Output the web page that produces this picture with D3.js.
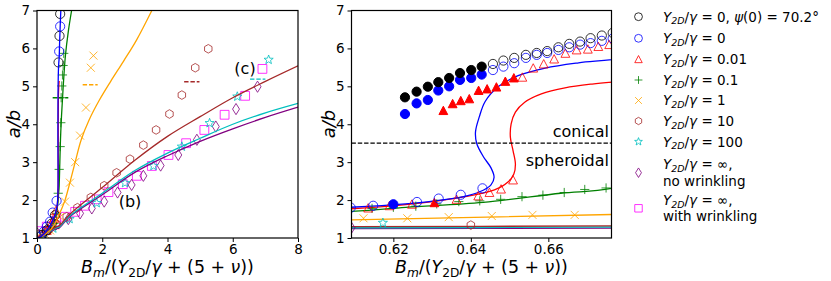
<!DOCTYPE html>
<html>
<head>
<meta charset="utf-8">
<script src="https://cdnjs.cloudflare.com/ajax/libs/d3/7.8.5/d3.min.js"></script>
<style>
  body { margin: 0; background: #fff; }
  text { font-family: "DejaVu Sans", sans-serif; fill: #000; }
</style>
</head>
<body>
<div id="chart"></div>
<script>
// ---- data ----
// theory curves [x, a/b], shared by both panels
const curveRed    = [[0,1],[0.2,1.1],[0.4,1.32],[0.5,1.48],[0.56,1.62],[0.6089,1.77],[0.6232,1.88],[0.6374,2.07],[0.6461,2.27],[0.6495,2.47],[0.6511,2.69],[0.6515,2.95],[0.6509,3.30],[0.6502,3.66],[0.6504,4.01],[0.6515,4.32],[0.6539,4.58],[0.6582,4.80],[0.6643,4.96],[0.6713,5.06],[0.680,5.14]];
const curveBlue   = [[0,1],[0.1,1.03],[0.2,1.1],[0.3,1.2],[0.4,1.33],[0.5,1.5],[0.56,1.64],[0.6089,1.81],[0.6232,1.90],[0.6332,2.01],[0.6392,2.12],[0.6432,2.26],[0.6452,2.40],[0.6460,2.60],[0.6452,2.85],[0.6432,3.15],[0.6415,3.50],[0.6412,3.80],[0.6422,4.20],[0.6437,4.60],[0.6472,5.00],[0.6522,5.28],[0.6592,5.48],[0.6678,5.62],[0.6792,5.75],[0.695,6.2],[0.712,6.62],[0.73,7.0]];
const curveGreen  = [[0,1],[0.2,1.1],[0.4,1.3],[0.5,1.45],[0.6092,1.70],[0.6232,1.81],[0.6432,1.94],[0.6632,2.18],[0.6763,2.31],[0.70,3.0],[0.72,3.6],[0.75,4.2],[0.80,4.95],[0.87,5.8],[0.96,6.45],[1.06,7.0]];
const curveOrange = [[0,1],[0.2,1.07],[0.4,1.2],[0.5,1.32],[0.6092,1.48],[0.6763,1.62],[0.76,1.78],[0.86,2.0],[1.02,2.5],[1.17,3.0],[1.35,3.58],[1.6,4.12],[1.9,4.62],[2.25,5.12],[2.65,5.66],[3.05,6.22],[3.52,7.0]];
const curveBrown  = [[0,1],[0.3,1.15],[0.6092,1.30],[0.6763,1.32],[1,1.62],[2,2.33],[3,3.05],[4,3.68],[5,4.2],[6,4.7],[7,5.13],[8,5.54]];
const curveCyan   = [[0,1],[0.3,1.14],[0.6092,1.27],[0.6763,1.29],[1,1.58],[2,2.18],[3,2.78],[4,3.24],[5,3.63],[6,4.0],[7,4.3],[8,4.55]];
const curvePurple = [[0,1],[0.3,1.13],[0.6092,1.25],[0.6763,1.26],[1,1.56],[2,2.14],[3,2.73],[4,3.17],[5,3.55],[6,3.88],[7,4.18],[8,4.45]];

// simulation points, left panel
const leftBlack  = [[0.15,1.08],[0.3,1.2],[0.45,1.38],[0.55,1.6],[0.66,5.63],[0.69,6.33],[0.71,6.91]];
const leftBlue   = [[0.1,1.04],[0.21,1.17],[0.3,1.30],[0.4,1.43],[0.48,1.67],[0.6,1.98],[0.68,5.92],[0.71,6.58]];
const leftRed    = [[0.15,1.08],[0.3,1.2],[0.42,1.35],[0.52,1.52],[0.58,1.72]];
const leftGreen  = [[0.1,1.03],[0.25,1.1],[0.4,1.22],[0.52,1.38],[0.60,1.65],[0.65,2.18],[0.68,2.81],[0.71,3.41],[0.73,4.04],[0.74,4.70],[0.76,5.01],[0.78,5.30],[0.80,5.55],[0.82,5.87]];
const leftOrange = [[0.1,1.03],[0.25,1.1],[0.4,1.2],[0.55,1.33],[0.7,1.55],[0.86,1.96],[1.01,2.46],[1.17,3.0],[1.32,3.70],[1.50,4.44],[1.65,5.49],[1.73,5.81]];
const leftBrown  = [[0.07,1.10],[0.35,1.21],[0.60,1.37],[0.91,1.56],[1.24,1.80],[1.65,2.07],[2.06,2.38],[2.44,2.72],[2.85,3.08],[3.26,3.45],[3.65,3.85],[4.06,4.27],[4.44,4.77],[4.85,5.49],[5.25,5.99]];
const leftCyan   = [[0.2,1.1],[0.5,1.25],[1.0,1.5],[1.83,1.92],[2.70,2.45],[3.57,2.90],[4.44,3.41],[5.29,4.03],[6.14,4.73],[7.10,5.70]];
const leftPurple = [[0.01,1.12],[0.30,1.23],[0.60,1.37],[0.96,1.50],[1.32,1.65],[1.68,1.78],[2.06,1.96],[2.47,2.20],[2.90,2.40],[3.26,2.64],[3.79,2.91],[4.33,3.19],[4.90,3.59],[5.48,3.94],[6.10,4.40],[6.76,4.99]];
const leftMagenta = [[0.09,1.18],[0.30,1.30],[0.58,1.43],[0.86,1.56],[1.17,1.69],[1.47,1.85],[1.83,2.02],[2.19,2.21],[2.63,2.42],[3.06,2.64],[3.52,2.90],[4.03,3.19],[4.57,3.50],[5.13,3.85],[5.75,4.25],[6.38,4.75],[6.91,5.46]];
// short dashed marks of the transition, left panel: [x0, x1, a/b]
const transGreen  = [0.48, 0.96, 4.70];
const transOrange = [1.40, 1.86, 5.04];
const transBrown  = [4.51, 4.98, 5.12];
const transCyan   = [6.53, 7.00, 5.19];

// simulation points, right panel
const rightBlackFill = [[0.6230,4.71],[0.6260,4.86],[0.6289,4.99],[0.6316,5.11],[0.6344,5.22],[0.6372,5.35],[0.6401,5.43],[0.6428,5.52]];
const rightBlackOpen = [[0.6457,5.59],[0.6484,5.68],[0.6512,5.75],[0.6542,5.83],[0.6570,5.88],[0.6597,5.93],[0.6626,6.03],[0.6654,6.12],[0.6682,6.18],[0.6709,6.27],[0.6738,6.34],[0.6766,6.41]];
const rightBlueFill  = [[0.6230,4.27],[0.6260,4.55],[0.6289,4.64],[0.6316,4.89],[0.6344,5.00],[0.6372,5.17],[0.6401,5.22],[0.6428,5.31],[0.6200,1.89]];
const rightBlueOpen  = [[0.6457,5.43],[0.6484,5.52],[0.6512,5.61],[0.6542,5.75],[0.6570,5.83],[0.6597,5.88],[0.6626,5.96],[0.6654,6.03],[0.6682,6.10],[0.6709,6.14],[0.6738,6.20],[0.6766,6.26],
                        [0.6090,1.80],[0.6148,1.85],[0.6261,1.95],[0.6317,2.04],[0.6374,2.14],[0.6430,2.31]];
const rightRedFill   = [[0.6329,4.36],[0.6353,4.54],[0.6374,4.62],[0.6396,4.67],[0.6420,4.89],[0.6442,4.93],[0.6466,4.98],[0.6489,5.13],[0.6511,5.22],[0.6306,1.93]];
const rightRedOpen   = [[0.6533,5.24],[0.6561,5.48],[0.6588,5.59],[0.6615,5.72],[0.6644,5.87],[0.6673,5.96],[0.6702,5.98],[0.6729,6.05],[0.6757,6.10],
                        [0.6135,1.79],[0.6190,1.85],[0.6248,1.89],[0.6363,2.02],[0.6419,2.11],[0.6448,2.20],[0.6478,2.29],[0.6509,2.53]];
const rightGreen  = [[0.6145,1.78],[0.6200,1.81],[0.6258,1.84],[0.6312,1.90],[0.6369,1.96],[0.6423,1.98],[0.6477,2.02],[0.6532,2.09],[0.6586,2.13],[0.6641,2.20],[0.6694,2.28],[0.6749,2.32]];
const rightOrange = [[0.6123,1.52],[0.6236,1.52],[0.6343,1.55],[0.6454,1.58],[0.6559,1.61],[0.6668,1.61]];
const rightBrown  = [[0.6400,1.34]];
const rightCyan   = [[0.6173,1.40]];
const rightPurple = [[0.6092,1.27]];
const conicalLevel = 3.5;

const leftTicksX  = [0, 2, 4, 6, 8];
const rightTicksX = [0.62, 0.64, 0.66];
const ticksY      = [1, 2, 3, 4, 5, 6, 7];

// ---- marker shapes ----
const shapes = {
  circle: r => `M${r},0A${r},${r} 0 1,1 ${-r},0A${r},${r} 0 1,1 ${r},0Z`,
  tri: r => `M0,${-r}L${r},${r * 0.9}L${-r},${r * 0.9}Z`,
  plus: r => `M${-r},0H${r}M0,${-r}V${r}`,
  cross: r => `M${-r},${-r}L${r},${r}M${-r},${r}L${r},${-r}`,
  hex: r => d3.range(6).map(k => {
    const a = (k * 60 - 90) * Math.PI / 180;
    return (k ? "L" : "M") + (r * Math.cos(a)).toFixed(2) + "," + (r * Math.sin(a)).toFixed(2);
  }).join("") + "Z",
  star: r => d3.range(10).map(k => {
    const a = (k * 36 - 90) * Math.PI / 180, rr = k % 2 ? r * 0.42 : r;
    return (k ? "L" : "M") + (rr * Math.cos(a)).toFixed(2) + "," + (rr * Math.sin(a)).toFixed(2);
  }).join("") + "Z",
  diamond: r => `M0,${-r}L${r * 0.62},0L0,${r}L${-r * 0.62},0Z`,
  square: r => `M${-r},${-r}H${r}V${r}H${-r}Z`
};

const st = {
  black:   { color: "#000000", shape: "circle", r: 4.6 },
  blue:    { color: "#0000ff", shape: "circle", r: 4.6 },
  red:     { color: "#ff0000", shape: "tri", r: 4.4 },
  green:   { color: "#008000", shape: "plus", r: 4.6 },
  orange:  { color: "#ffa500", shape: "cross", r: 4.0 },
  brown:   { color: "#a52a2a", shape: "hex", r: 4.3 },
  cyan:    { color: "#00bfbf", shape: "star", r: 4.8 },
  purple:  { color: "#800080", shape: "diamond", r: 5.6 },
  magenta: { color: "#ff00ff", shape: "square", r: 4.4 }
};

const W = 831, H = 281;
const svg = d3.select("#chart").append("svg").attr("width", W).attr("height", H);

const y = d3.scaleLinear().domain([1, 7]).range([238, 10.5]);
const xL = d3.scaleLinear().domain([0, 8]).range([37, 298]);
const xR = d3.scaleLinear().domain([0.6092, 0.6763]).range([351.5, 611.5]);

// math-ish text from parts: {t, i: italic, sub: subscript}
function mathText(sel, parts, size) {
  let low = false;
  parts.forEach(p => {
    const ts = sel.append("tspan").text(p.t);
    if (p.i) ts.attr("font-style", "italic");
    if (p.sub && !low) { ts.attr("dy", size * 0.22).attr("font-size", size * 0.7); low = true; }
    else if (p.sub) ts.attr("font-size", size * 0.7);
    else if (!p.sub && low) { ts.attr("dy", -size * 0.22); low = false; }
  });
  return sel;
}

const xLabelParts = [{ t: "B", i: 1 }, { t: "m", i: 1, sub: 1 }, { t: "/(" }, { t: "Y", i: 1 }, { t: "2D", sub: 1 },
  { t: "/" }, { t: "γ", i: 1 }, { t: " + (5 + " }, { t: "ν", i: 1 }, { t: "))" }];

function panel(x, ticksX, fmt, id) {
  const [x0, x1] = x.range();
  const g = svg.append("g");
  g.append("clipPath").attr("id", id).append("rect")
    .attr("x", x0).attr("y", 10.5).attr("width", x1 - x0).attr("height", 238 - 10.5);

  const ax = g.append("g").attr("transform", "translate(0,238)")
    .call(d3.axisBottom(x).tickValues(ticksX).tickFormat(fmt).tickSize(4).tickPadding(2).tickSizeOuter(0));
  const ay = g.append("g").attr("transform", `translate(${x0},0)`)
    .call(d3.axisLeft(y).tickValues(ticksY).tickFormat(d3.format("d")).tickSize(4).tickPadding(3).tickSizeOuter(0));
  [ax, ay].forEach(a => {
    a.select(".domain").remove();
    a.selectAll("text").attr("font-size", 13.5).attr("font-family", "DejaVu Sans");
    a.selectAll("line").attr("stroke", "#000").attr("stroke-width", 1);
  });

  g.append("text").attr("x", (x0 + x1) / 2).attr("y", 273).attr("text-anchor", "middle")
    .attr("font-size", 17.4).call(s => mathText(s, xLabelParts, 17.4));
  g.append("text").attr("transform", `translate(${x0 - 17},124) rotate(-90)`).attr("text-anchor", "middle")
    .attr("font-size", 18).attr("font-style", "italic").text("a/b");

  const plot = g.append("g").attr("clip-path", `url(#${id})`);
  return { g, plot, x, x0, x1 };
}

function markers(p, data, s, filled) {
  p.plot.append("g").selectAll("path").data(data).join("path")
    .attr("transform", d => `translate(${p.x(d[0])},${y(d[1])})`)
    .attr("d", shapes[s.shape](s.r))
    .attr("fill", filled ? s.color : "none")
    .attr("stroke", s.color)
    .attr("stroke-width", 1)
    .attr("opacity", filled ? 1 : 0.8);
}

function curve(p, data, color) {
  const line = d3.line().x(d => p.x(d[0])).y(d => y(d[1])).curve(d3.curveCatmullRom.alpha(0.5));
  p.plot.append("path").datum(data).attr("d", line)
    .attr("fill", "none").attr("stroke", color).attr("stroke-width", 1.3);
}

function trans(p, t, color) {
  p.plot.append("line").attr("x1", p.x(t[0])).attr("x2", p.x(t[1]))
    .attr("y1", y(t[2])).attr("y2", y(t[2]))
    .attr("stroke", color).attr("stroke-width", 1.4).attr("stroke-dasharray", "4.4,1.9");
}

// ---- left panel ----
const L = panel(xL, leftTicksX, d3.format("d"), "clipL");
markers(L, leftMagenta, st.magenta);
markers(L, leftPurple, st.purple);
markers(L, leftCyan, st.cyan);
markers(L, leftBrown, st.brown);
markers(L, leftOrange, st.orange);
markers(L, leftGreen, st.green);
markers(L, leftRed, st.red);
markers(L, leftBlue, st.blue);
markers(L, leftBlack, st.black);
curve(L, curvePurple, st.purple.color);
curve(L, curveCyan, st.cyan.color);
curve(L, curveBrown, st.brown.color);
curve(L, curveOrange, st.orange.color);
curve(L, curveGreen, st.green.color);
curve(L, curveRed, st.red.color);
curve(L, curveBlue, st.blue.color);
trans(L, transGreen, st.green.color);
trans(L, transOrange, st.orange.color);
trans(L, transBrown, st.brown.color);
trans(L, transCyan, st.cyan.color);
L.g.append("text").attr("x", 245).attr("y", 74).attr("text-anchor", "middle").attr("font-size", 16).text("(c)");
L.g.append("text").attr("x", 130).attr("y", 207).attr("text-anchor", "middle").attr("font-size", 16).text("(b)");

// ---- right panel ----
const R = panel(xR, rightTicksX, d3.format(".2f"), "clipR");
curve(R, curvePurple, st.purple.color);
curve(R, curveCyan, st.cyan.color);
curve(R, curveBrown, st.brown.color);
curve(R, curveOrange, st.orange.color);
curve(R, curveGreen, st.green.color);
curve(R, curveRed, st.red.color);
curve(R, curveBlue, st.blue.color);
markers(R, rightPurple, st.purple);
markers(R, rightCyan, st.cyan);
markers(R, rightBrown, st.brown);
markers(R, rightOrange, st.orange);
markers(R, rightGreen, st.green);
markers(R, rightRedOpen, st.red);
markers(R, rightRedFill, st.red, true);
markers(R, rightBlueOpen, st.blue);
markers(R, rightBlueFill, st.blue, true);
markers(R, rightBlackOpen, st.black);
markers(R, rightBlackFill, st.black, true);
R.plot.append("line").attr("x1", R.x0).attr("x2", R.x1)
  .attr("y1", y(conicalLevel)).attr("y2", y(conicalLevel))
  .attr("stroke", "#000").attr("stroke-width", 1.2).attr("stroke-dasharray", "4.4,1.9");
R.g.append("text").attr("x", 609).attr("y", 137).attr("text-anchor", "end").attr("font-size", 16).text("conical");
R.g.append("text").attr("x", 609).attr("y", 166).attr("text-anchor", "end").attr("font-size", 16).text("spheroidal");

// frames on top
[L, R].forEach(p => {
  p.g.append("rect").attr("x", p.x0).attr("y", 10.5).attr("width", p.x1 - p.x0).attr("height", 238 - 10.5)
    .attr("fill", "none").attr("stroke", "#000").attr("stroke-width", 1.2);
});

// ---- legend ----
const Ylab = [{ t: "Y", i: 1 }, { t: "2D", i: 1, sub: 1 }, { t: "/" }, { t: "γ", i: 1 }];
const legendItems = [
  { s: st.black,   y: 16.7,  lines: [[...Ylab, { t: " = 0,  " }, { t: "ψ", i: 1 }, { t: "(0) = 70.2°" }]] },
  { s: st.blue,    y: 38.3,  lines: [[...Ylab, { t: " = 0" }]] },
  { s: st.red,     y: 59.3,  lines: [[...Ylab, { t: " = 0.01" }]] },
  { s: st.green,   y: 80,    lines: [[...Ylab, { t: " = 0.1" }]] },
  { s: st.orange,  y: 100.5, lines: [[...Ylab, { t: " = 1" }]] },
  { s: st.brown,   y: 121,   lines: [[...Ylab, { t: " = 10" }]] },
  { s: st.cyan,    y: 141.7, lines: [[...Ylab, { t: " = 100" }]] },
  { s: st.purple,  y: 172.7, lines: [[...Ylab, { t: " = ∞," }], [{ t: " no wrinkling" }]] },
  { s: st.magenta, y: 208.3, lines: [[...Ylab, { t: " = ∞," }], [{ t: " with wrinkling" }]] }
];
const lg = svg.append("g");
legendItems.forEach(it => {
  lg.append("path").attr("transform", `translate(638.5,${it.y})`)
    .attr("d", shapes[it.s.shape](it.s.r * 0.85))
    .attr("fill", "none").attr("stroke", it.s.color).attr("stroke-width", 1).attr("opacity", 0.8);
  const n = it.lines.length;
  it.lines.forEach((parts, k) => {
    const cy = it.y + (k - (n - 1) / 2) * 16.5;
    lg.append("text").attr("x", 663).attr("y", cy + 4.8).attr("font-size", 13.5)
      .call(s => mathText(s, parts, 13.5));
  });
});
</script>
</body>
</html>
